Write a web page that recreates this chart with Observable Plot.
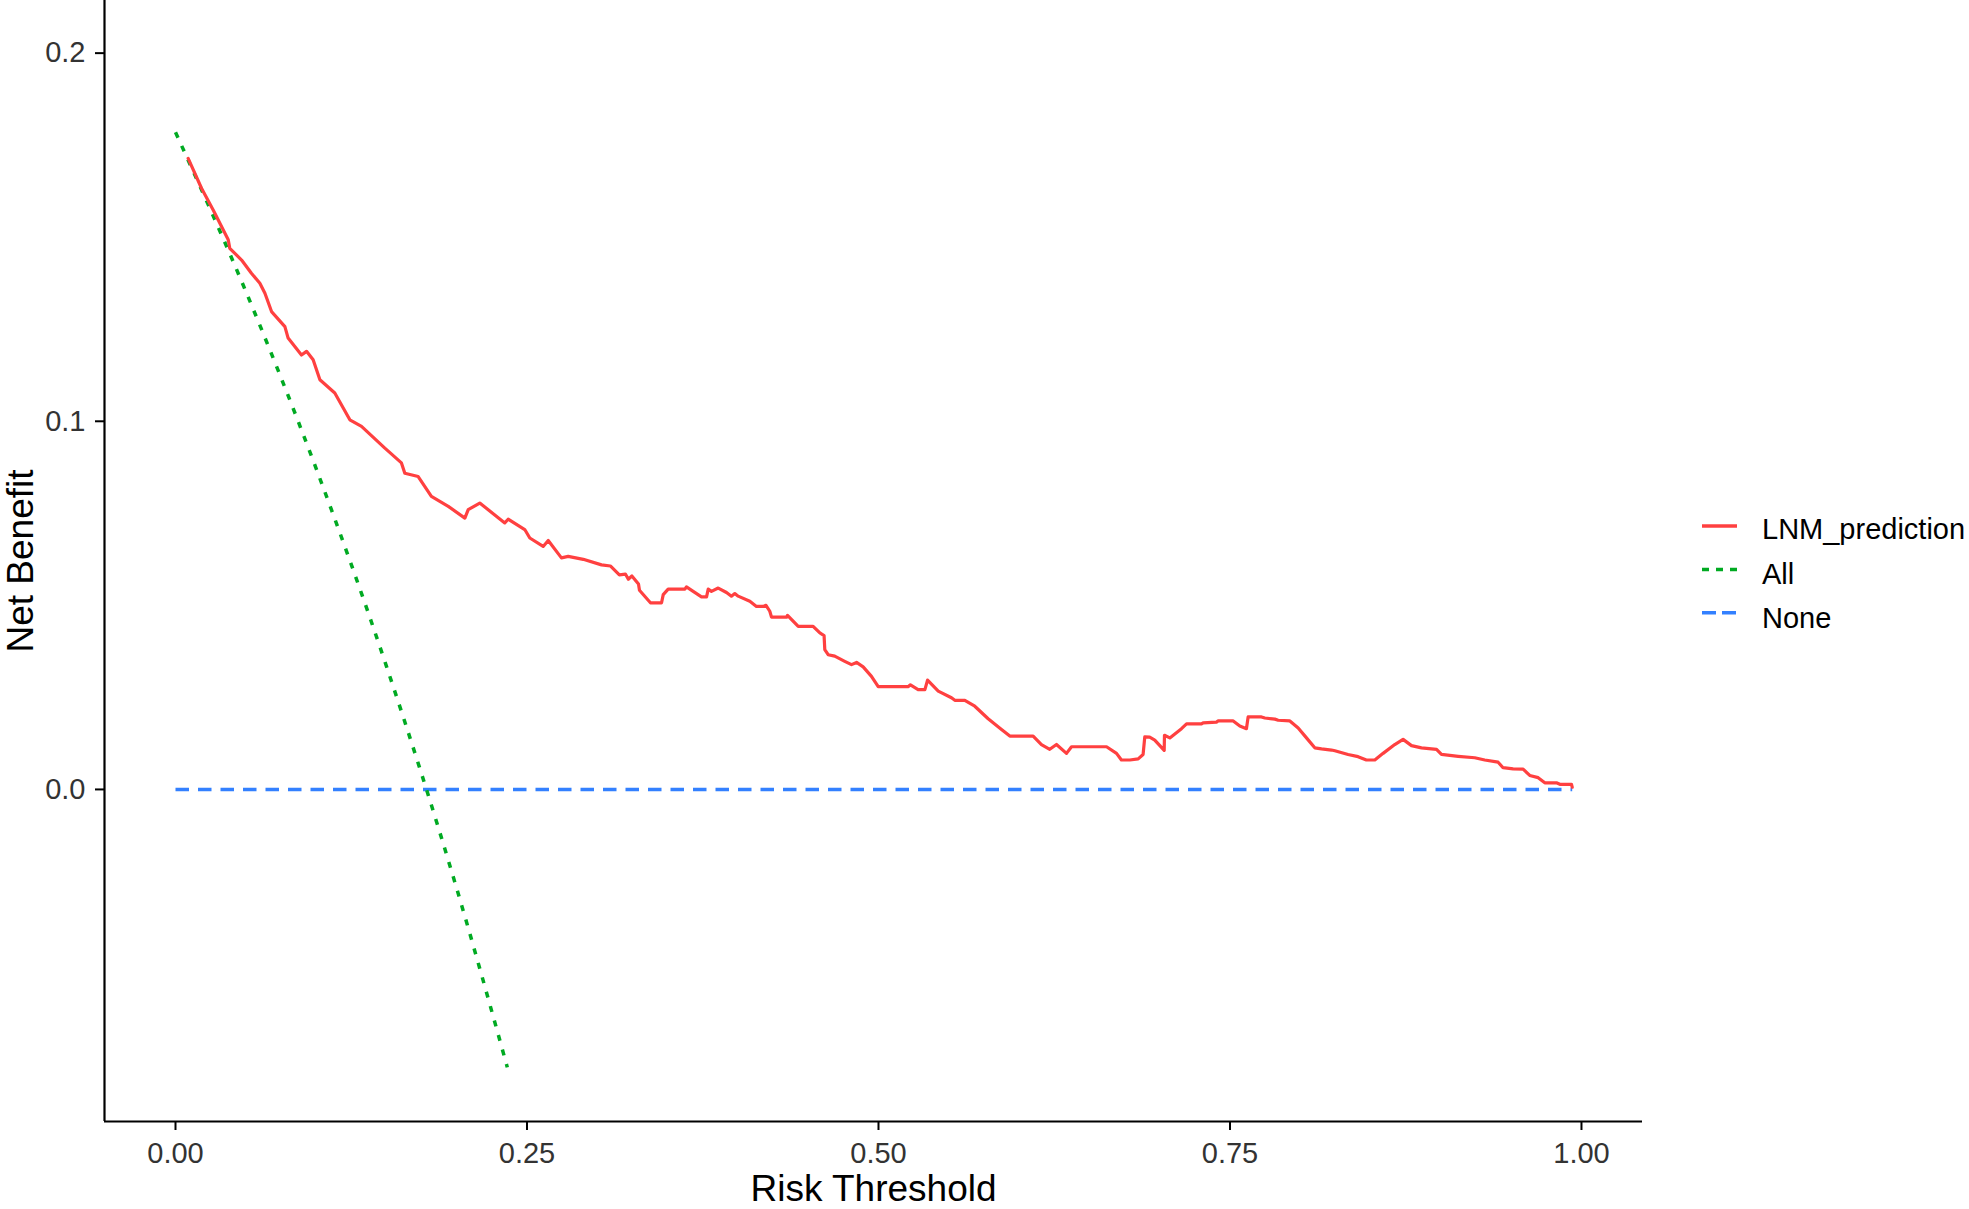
<!DOCTYPE html>
<html>
<head>
<meta charset="utf-8">
<script src="https://cdn.jsdelivr.net/npm/d3@7"></script>
<script src="https://cdn.jsdelivr.net/npm/@observablehq/plot@0.6"></script>
<style>
  html, body { margin: 0; padding: 0; background: #fff; overflow: hidden; }
  #wrap { position: relative; width: 1969px; height: 1209px; overflow: hidden; }
  #legend { position: absolute; left: 1700px; top: 480px; }
</style>
</head>
<body>
<div id="wrap"></div>
<script>
// ---- data ----
const xTicks = [0, 0.25, 0.5, 0.75, 1];
const yTicks = [0, 0.1, 0.2];

const seriesNames = ["LNM_prediction", "All", "None"];
const seriesColors = ["#FF4040", "#00AA22", "#3380FF"];

const lnmThreshold = [
  0.009, 0.0185, 0.0268, 0.0375, 0.0386, 0.047, 0.054, 0.060, 0.0636, 0.0683,
  0.0778, 0.0801, 0.0896, 0.0932, 0.0979, 0.1027, 0.1133, 0.124, 0.1323, 0.1489,
  0.1607, 0.1631, 0.1726, 0.182, 0.194, 0.2058, 0.2082, 0.2164, 0.2342, 0.2366,
  0.2484, 0.252, 0.2615, 0.2651, 0.2745, 0.2793, 0.29, 0.303, 0.3093, 0.3157,
  0.32, 0.3221, 0.3246, 0.3293, 0.33, 0.3378, 0.3457, 0.3469, 0.3504, 0.3623,
  0.3634, 0.3682, 0.3741, 0.3777, 0.3789, 0.3812, 0.386, 0.3919, 0.3954, 0.3978,
  0.4002, 0.4085, 0.4132, 0.418, 0.42, 0.4227, 0.4239, 0.4346, 0.4353, 0.4429,
  0.4535, 0.4583, 0.4613, 0.4618, 0.4642, 0.4689, 0.476, 0.4808, 0.4844, 0.4891,
  0.495, 0.4998, 0.521, 0.5227, 0.5282, 0.533, 0.5349, 0.5425, 0.5519, 0.5543,
  0.5614, 0.5685, 0.578, 0.5875, 0.5934, 0.61, 0.6159, 0.6218, 0.6266, 0.6337,
  0.6373, 0.6622, 0.6693, 0.6728, 0.6788, 0.6847, 0.6882, 0.6894, 0.6929, 0.6965,
  0.7032, 0.7034, 0.7072, 0.7155, 0.7191, 0.7297, 0.7309, 0.7404, 0.7416, 0.7523,
  0.757, 0.7617, 0.7629, 0.7724, 0.7748, 0.7819, 0.7843, 0.7926, 0.7985, 0.8044,
  0.8103, 0.8151, 0.8222, 0.8246, 0.834, 0.8411, 0.847, 0.853, 0.8589, 0.8672,
  0.8731, 0.8791, 0.8862, 0.8969, 0.9004, 0.9123, 0.9241, 0.9312, 0.9407, 0.9442,
  0.9514, 0.9585, 0.9632, 0.9692, 0.9739, 0.9822, 0.9846, 0.9929, 0.9934
];
const lnmNetBenefit = [
  0.1714, 0.1633, 0.1574, 0.1493, 0.147, 0.1438, 0.1402, 0.1375, 0.1348, 0.1298,
  0.1257, 0.1226, 0.118, 0.119, 0.1167, 0.1113, 0.1077, 0.1004, 0.0986, 0.0927,
  0.0887, 0.0859, 0.085, 0.0796, 0.0769, 0.0737, 0.076, 0.0778, 0.0724, 0.0734,
  0.0706, 0.0683, 0.066, 0.0676, 0.0629, 0.0633, 0.0625, 0.061, 0.0607, 0.0583,
  0.0585, 0.0571, 0.058, 0.0558, 0.0541, 0.0507, 0.0507, 0.0529, 0.0544, 0.0544,
  0.055, 0.0538, 0.0523, 0.0523, 0.0544, 0.0538, 0.0547, 0.0535, 0.0525, 0.0532,
  0.0525, 0.0511, 0.0497, 0.0497, 0.05, 0.0484, 0.0468, 0.0468, 0.0473, 0.0443,
  0.0443, 0.0425, 0.0418, 0.038, 0.0366, 0.0362, 0.0348, 0.0339, 0.0345, 0.0333,
  0.0307, 0.0279, 0.0279, 0.0284, 0.0271, 0.0271, 0.0297, 0.0267, 0.0249, 0.0242,
  0.0242, 0.0226, 0.0192, 0.0163, 0.0145, 0.0145, 0.0122, 0.0109, 0.0122, 0.0098,
  0.0116, 0.0116, 0.0098, 0.008, 0.008, 0.0083, 0.0095, 0.0143, 0.0142, 0.0134,
  0.0106, 0.0147, 0.014, 0.0165, 0.0178, 0.0178, 0.0181, 0.0183, 0.0186, 0.0186,
  0.0172, 0.0165, 0.0197, 0.0197, 0.0194, 0.0191, 0.0188, 0.0186, 0.0167, 0.014,
  0.0113, 0.011, 0.0107, 0.0105, 0.0095, 0.0089, 0.008, 0.008, 0.0098, 0.0122,
  0.0136, 0.0119, 0.0113, 0.0109, 0.0095, 0.009, 0.0086, 0.008, 0.0074, 0.0059,
  0.0056, 0.0055, 0.0038, 0.0032, 0.0018, 0.0018, 0.0014, 0.0014, 0.0006
];

const allThreshold = [0, 0.05, 0.10, 0.15, 0.20, 0.236];
const allNetBenefit = [0.1785, 0.1353, 0.0872, 0.0335, -0.0269, -0.0755];

const noneThreshold = [0, 0.9934];
const noneNetBenefit = [0, 0];

// ---- build tables ----
const lnm = lnmThreshold.map((x, i) => ({x, y: lnmNetBenefit[i]}));
const all = allThreshold.map((x, i) => ({x, y: allNetBenefit[i]}));
const none = noneThreshold.map((x, i) => ({x, y: noneNetBenefit[i]}));

const W = 1969, H = 1209;
const xDomain = [-0.0505, 1.0434];
const yDomain = [-0.0902, 0.2143];
const font = "'Liberation Sans', Arial, Helvetica, sans-serif";

const chart = Plot.plot({
  width: W,
  height: H,
  marginLeft: 104,
  marginRight: 327,
  marginTop: 0,
  marginBottom: 88,
  style: {fontFamily: font, background: "#fff", color: "#000"},
  x: {domain: xDomain, label: null},
  y: {domain: yDomain, label: null},
  marks: [
    Plot.axisX({ticks: xTicks, tickFormat: d3.format(".2f"), tickSize: 9, tickPadding: 12,
      fontSize: 29, stroke: "#000", strokeWidth: 2, fill: "#333", label: null}),
    Plot.axisY({ticks: yTicks, tickFormat: d3.format(".1f"), tickSize: 9, tickPadding: 10,
      fontSize: 29, stroke: "#000", strokeWidth: 2, fill: "#333", label: null}),
    Plot.ruleX([xDomain[0]], {stroke: "#000", strokeWidth: 2.2}),
    Plot.ruleY([yDomain[0]], {stroke: "#000", strokeWidth: 2.2}),
    Plot.line(none, {x: "x", y: "y", stroke: seriesColors[2], strokeWidth: 3.5,
      strokeDasharray: "13.5,9", strokeLinecap: "butt"}),
    Plot.line(all, {x: "x", y: "y", stroke: seriesColors[1], strokeWidth: 3.5, curve: "monotone-x",
      strokeDasharray: "6,9", strokeLinecap: "butt"}),
    Plot.line(lnm, {x: "x", y: "y", stroke: seriesColors[0], strokeWidth: 3.2,
      strokeLinejoin: "round", strokeLinecap: "round"}),
    Plot.text(["Risk Threshold"], {frameAnchor: "bottom", dy: 68, fontSize: 37,
      textAnchor: "middle", lineAnchor: "middle", fill: "#000"}),
    Plot.text(["Net Benefit"], {frameAnchor: "left", dx: -83, rotate: -90, fontSize: 37,
      textAnchor: "middle", lineAnchor: "middle", fill: "#000"})
  ]
});

const wrap = document.getElementById("wrap");
wrap.appendChild(chart);

// ---- legend ----
const dashes = ["none", "7,7", "14,6"];
const lg = d3.select(wrap).append("svg")
  .attr("id", "legend")
  .attr("width", 269)
  .attr("height", 170)
  .style("font-family", font);
seriesNames.forEach((name, i) => {
  const keyY = 46 + 43.4 * i;
  const textY = 49 + 44.3 * i;
  lg.append("line")
    .attr("x1", 2).attr("x2", 37)
    .attr("y1", keyY).attr("y2", keyY)
    .attr("stroke", seriesColors[i])
    .attr("stroke-width", 3.5)
    .attr("stroke-dasharray", dashes[i]);
  lg.append("text")
    .attr("x", 62).attr("y", textY)
    .attr("dy", "0.355em")
    .attr("font-size", 29)
    .attr("fill", "#000")
    .text(name);
});
</script>
</body>
</html>
